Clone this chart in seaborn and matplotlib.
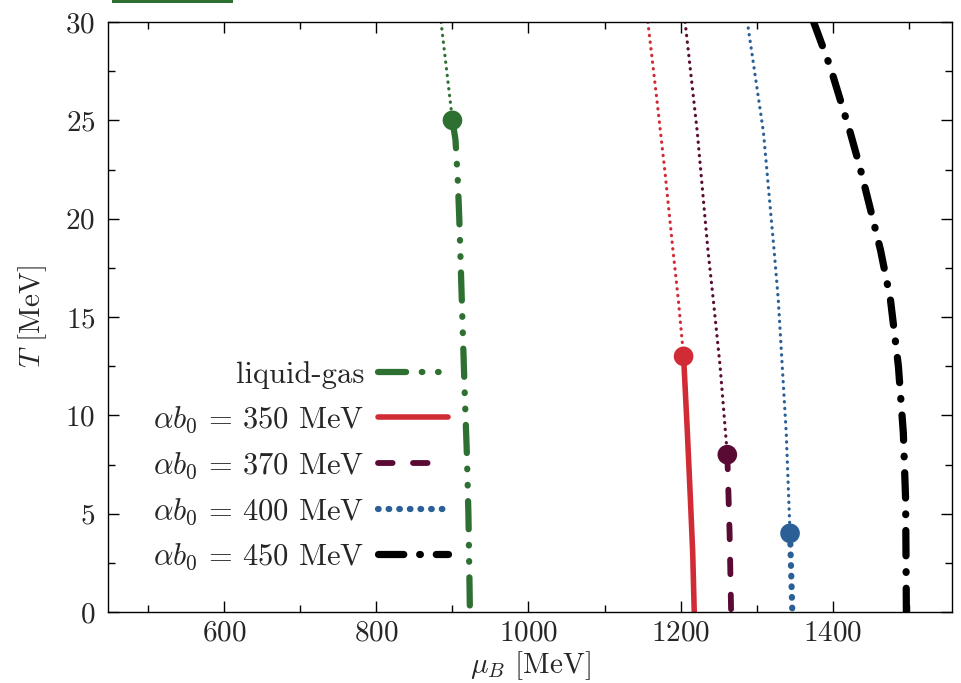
import numpy as np
import pandas as pd
import matplotlib
matplotlib.use("Agg")
import matplotlib.pyplot as plt
import seaborn as sns
from matplotlib.patches import Rectangle

# ---------------- data ----------------
# liquid-gas transition
lg_T_first = [25, 24, 22, 20, 17.5, 15, 11.3, 8, 5, 0]
lg_mu_first = [900, 904, 907, 909, 911, 913, 916, 919, 921, 923]
lg_T_cross = [30, 27.5, 25]
lg_mu_cross = [885, 892.5, 900]
lg_cp = (900, 25)

# alpha b0 = 350 MeV
r350_T_first = [13, 9.1, 5.7, 3, 0]
r350_mu_first = [1204, 1209, 1213, 1216, 1218]
r350_T_cross = [30, 26, 22.2, 18.4, 15.9, 13]
r350_mu_cross = [1157, 1169, 1180, 1190, 1197, 1204]
r350_cp = (1204, 13)

# alpha b0 = 370 MeV
r370_T_first = [8, 4, 0]
r370_mu_first = [1261.5, 1264.5, 1266.5]
r370_T_cross = [30, 24.4, 18.4, 15.9, 12.5, 8]
r370_mu_cross = [1206, 1222, 1236, 1243, 1252, 1261.5]
r370_cp = (1261.5, 8)

# alpha b0 = 400 MeV
r400_T_first = [4, 0]
r400_mu_first = [1344, 1347]
r400_T_cross = [29.7, 24.4, 18.4, 15.9, 9.1, 4]
r400_mu_cross = [1289, 1309, 1323, 1328.5, 1339, 1344]
r400_cp = (1344, 4)

# alpha b0 = 450 MeV
r450_T_first = [30, 27.7, 24.4, 22.6, 20.9, 18.4, 15.9, 12.5, 9.1, 5.7, 0]
r450_mu_first = [1375, 1397, 1423, 1436, 1447, 1463, 1476, 1486.5, 1493, 1496, 1497]

labels = ["liquid-gas",
          r"$\alpha b_0$ = 350 MeV",
          r"$\alpha b_0$ = 370 MeV",
          r"$\alpha b_0$ = 400 MeV",
          r"$\alpha b_0$ = 450 MeV"]

x_ticks = [600, 800, 1000, 1200, 1400]
y_ticks = [0, 5, 10, 15, 20, 25, 30]

# ---------------- style ----------------
sns.set_style("ticks")
plt.rcParams["font.family"] = ["cmr10", "DejaVu Serif"]
plt.rcParams["mathtext.fontset"] = "cm"
plt.rcParams["axes.formatter.use_mathtext"] = True
plt.rcParams["axes.unicode_minus"] = False

c_green = "#2e7032"
c_red = "#d12b36"
c_purple = "#5a0b34"
c_blue = "#2b6097"
c_black = "#000000"

FS = 21
FS_LEG = 22

fig = plt.figure(figsize=(9.61, 6.83), dpi=100)
ax = fig.add_axes([108/961, 1-612/683, (952-108)/961, (612-22)/683])

def draw(T, mu, color, lw, ls, label=None):
    df = pd.DataFrame({"mu": mu, "T": T})
    n0 = len(ax.lines)
    sns.lineplot(data=df, x="mu", y="T", sort=False, estimator=None, ax=ax,
                 color=color, lw=lw, linestyle=ls, dash_capstyle="round",
                 solid_capstyle="round", label=label, legend=False)
    return ax.lines[n0]

cross_ls = (0, (0.1, 2.0))
cross_lw = 2.3

series = [
    (lg_T_first, lg_mu_first, lg_T_cross, lg_mu_cross, lg_cp, c_green, 4.5,
     (0, (4.5, 2.5, 0.1, 2.5, 0.1, 2.5))),
    (r350_T_first, r350_mu_first, r350_T_cross, r350_mu_cross, r350_cp, c_red, 4.0, "-"),
    (r370_T_first, r370_mu_first, r370_T_cross, r370_mu_cross, r370_cp, c_purple, 4.2,
     (0, (2.5, 3.5))),
    (r400_T_first, r400_mu_first, r400_T_cross, r400_mu_cross, r400_cp, c_blue, 4.5,
     (0, (0.1, 1.6))),
]

handles = []
for (Tf, muf, Tc, muc, cp, col, lw, ls) in series:
    draw(Tc, muc, col, cross_lw, cross_ls)
    h = draw(Tf, muf, col, lw, ls)
    handles.append(h)
    sns.scatterplot(x=[cp[0]], y=[cp[1]], color=col, s=200, edgecolor="none",
                    ax=ax, zorder=5, legend=False)

h = draw(r450_T_first, r450_mu_first, c_black, 5.2, (0, (3.5, 2.2, 0.1, 2.2)))
handles.append(h)

ax.set_xlim(447, 1557)
ax.set_ylim(0, 30)
ax.set_xticks(x_ticks)
ax.set_yticks(y_ticks)
ax.set_xticks(np.arange(500, 1551, 100), minor=True)
ax.set_yticks(np.arange(0, 30.1, 2.5), minor=True)
ax.tick_params(which="both", direction="in", top=True, right=True,
               labelsize=FS, width=1.0, color="black")
ax.tick_params(which="major", length=8, pad=9)
ax.tick_params(axis="x", which="major", pad=6)
ax.tick_params(which="minor", length=5)
for s in ax.spines.values():
    s.set_linewidth(1.0)
    s.set_color("black")

ax.set_xlabel(r"$\mu_B$ [MeV]", fontsize=FS, labelpad=2)
ax.set_ylabel(r"$T$ [MeV]", fontsize=FS, labelpad=12)

leg = ax.legend(handles, labels, loc="upper right", bbox_to_anchor=(0.403, 0.425),
                frameon=False, markerfirst=False, fontsize=FS_LEG, handlelength=2.3,
                handletextpad=0.45, labelspacing=0.5, borderpad=0, borderaxespad=0)

# cropped green strip at the very top of the reference image
fig.add_artist(Rectangle((112/961, 1-3/683), (233-112)/961, 3/683,
                         transform=fig.transFigure, color=c_green, lw=0))

fig.savefig("out.png", dpi=100)
